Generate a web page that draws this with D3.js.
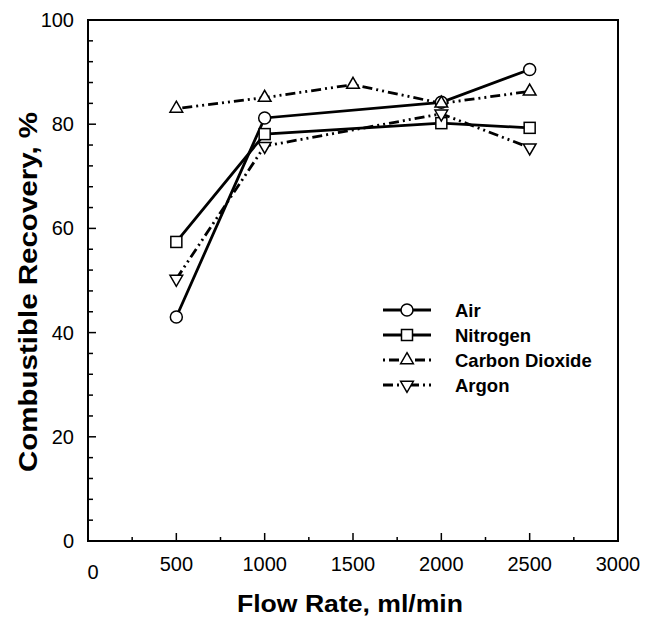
<!DOCTYPE html>
<html>
<head>
<meta charset="utf-8">
<script src="https://cdn.jsdelivr.net/npm/d3@7"></script>
<style>
  body { margin: 0; background: #fff; }
  text { font-family: "Liberation Sans", Arial, sans-serif; fill: #000; }
</style>
</head>
<body>
<svg id="canvas" width="648" height="621"></svg>
<script>
let flowRates = [500, 1000, 1500, 2000, 2500]
let airValues = [43.0, 81.2, null, 84.2, 90.5]
let nitrogenValues = [57.4, 78.1, null, 80.2, 79.3]
let co2Values = [83.0, 85.1, 87.6, 84.0, 86.3]
let argonValues = [50.3, 75.8, null, 82.0, 75.5]
let seriesNames = ['Air', 'Nitrogen', 'Carbon Dioxide', 'Argon']
let xTicks = [0, 500, 1000, 1500, 2000, 2500, 3000]
let yTicks = [0, 20, 40, 60, 80, 100]

let canvas = d3.select('#canvas')

let plotLeft = 88, plotRight = 618, plotTop = 20, plotBottom = 541

let xScale = d3.scaleLinear().domain([0, 3000]).range([plotLeft, plotRight])
let yScale = d3.scaleLinear().domain([0, 100]).range([plotBottom, plotTop])

let series = [
  {name: 'Air', values: airValues, marker: 'circle', dash: null},
  {name: 'Nitrogen', values: nitrogenValues, marker: 'square', dash: null},
  {name: 'Carbon Dioxide', values: co2Values, marker: 'up', dash: '2,4,10,4,2,4'},
  {name: 'Argon', values: argonValues, marker: 'down', dash: '10,4,2,4,2,4'}
]

// frame
canvas.append('rect')
  .attr('x', plotLeft).attr('y', plotTop)
  .attr('width', plotRight - plotLeft).attr('height', plotBottom - plotTop)
  .attr('fill', 'none').attr('stroke', '#000').attr('stroke-width', 2)

// y ticks (inward)
let yMinor = d3.range(0, 101, 4)
canvas.selectAll('.ytick')
  .data(yMinor)
  .enter()
  .append('line')
  .attr('x1', plotLeft).attr('x2', (d) => plotLeft + (d % 20 === 0 ? 8 : 5))
  .attr('y1', (d) => yScale(d)).attr('y2', (d) => yScale(d))
  .attr('stroke', '#000').attr('stroke-width', 1.5)

canvas.selectAll('.ylabel')
  .data(yTicks)
  .enter()
  .append('text')
  .attr('x', plotLeft - 14)
  .attr('y', (d) => yScale(d) + 7)
  .attr('text-anchor', 'end')
  .attr('font-size', 20)
  .text((d) => d)

// x ticks (inward)
let xMinor = d3.range(250, 3000, 250)
canvas.selectAll('.xtick')
  .data(xMinor)
  .enter()
  .append('line')
  .attr('x1', (d) => xScale(d)).attr('x2', (d) => xScale(d))
  .attr('y1', plotBottom).attr('y2', (d) => plotBottom - (d % 500 === 0 ? 8 : 4))
  .attr('stroke', '#000').attr('stroke-width', 1.5)

canvas.selectAll('.xlabel')
  .data(xTicks)
  .enter()
  .append('text')
  .attr('x', (d) => xScale(d) + (d === 0 ? 5 : 0))
  .attr('y', (d) => d === 0 ? 579 : 571)
  .attr('text-anchor', 'middle')
  .attr('font-size', 20)
  .text((d) => d)

// axis titles
canvas.append('text')
  .attr('x', 350).attr('y', 612)
  .attr('text-anchor', 'middle')
  .attr('font-size', 23).attr('font-weight', 'bold')
  .attr('textLength', 226).attr('lengthAdjust', 'spacingAndGlyphs')
  .text('Flow Rate, ml/min')

canvas.append('text')
  .attr('transform', 'translate(37,292) rotate(-90)')
  .attr('text-anchor', 'middle')
  .attr('font-size', 25).attr('font-weight', 'bold')
  .attr('textLength', 360).attr('lengthAdjust', 'spacingAndGlyphs')
  .text('Combustible Recovery, %')

let drawMarker = (g, type, x, y) => {
  if (type === 'circle') {
    g.append('circle').attr('cx', x).attr('cy', y).attr('r', 6)
      .attr('fill', '#fff').attr('stroke', '#000').attr('stroke-width', 1.5)
  } else if (type === 'square') {
    g.append('rect').attr('x', x - 5.5).attr('y', y - 5.5).attr('width', 11).attr('height', 11)
      .attr('fill', '#fff').attr('stroke', '#000').attr('stroke-width', 1.5)
  } else {
    let sym = d3.symbol().type(d3.symbolTriangle).size(70)
    g.append('path').attr('d', sym())
      .attr('transform', 'translate(' + x + ',' + y + ')' + (type === 'down' ? ' rotate(180)' : ''))
      .attr('fill', '#fff').attr('stroke', '#000').attr('stroke-width', 1.5)
  }
}

let line = d3.line()
  .x((d) => xScale(d[0]))
  .y((d) => yScale(d[1]))

series.forEach((s) => {
  let pts = flowRates.map((f, i) => [f, s.values[i]]).filter((d) => d[1] !== null)
  canvas.append('path')
    .datum(pts)
    .attr('d', line)
    .attr('fill', 'none')
    .attr('stroke', '#000')
    .attr('stroke-width', 2.8)
    .attr('stroke-dasharray', s.dash)
})

series.forEach((s) => {
  let g = canvas.append('g')
  flowRates.forEach((f, i) => {
    if (s.values[i] !== null) drawMarker(g, s.marker, xScale(f), yScale(s.values[i]))
  })
})

// legend
let legendY = [310, 335, 360, 385]
series.forEach((s, i) => {
  let g = canvas.append('g')
  g.append('line')
    .attr('x1', 383).attr('x2', 431)
    .attr('y1', legendY[i]).attr('y2', legendY[i])
    .attr('stroke', '#000').attr('stroke-width', 2.8)
    .attr('stroke-dasharray', s.dash)
  drawMarker(g, s.marker, 407, legendY[i])
  g.append('text')
    .attr('x', 455).attr('y', legendY[i] + 6.5)
    .attr('font-size', 18.5).attr('font-weight', 'bold')
    .text(seriesNames[i])
})
</script>
</body>
</html>
